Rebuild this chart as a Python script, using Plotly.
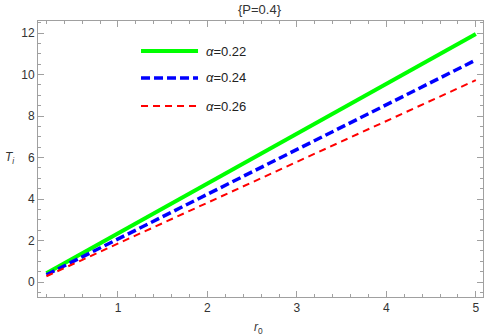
import plotly.graph_objects as go

r0 = [0.2, 1, 2, 3, 4, 5]
T_022 = [0.43, 2.35, 4.75, 7.15, 9.55, 11.95]
T_024 = [0.35, 2.07, 4.23, 6.39, 8.55, 10.7]
T_026 = [0.28, 1.86, 3.83, 5.80, 7.77, 9.73]
labels = ["<i>α</i>=0.22", "<i>α</i>=0.24", "<i>α</i>=0.26"]
title_text = "{P=0.4}"

styles = [dict(color="#00ff00", width=4),
          dict(color="#0000ff", width=3.5, dash="9px,4px"),
          dict(color="#ff0000", width=2, dash="7px,5px")]

fig = go.Figure()
for ys, lab, st in zip([T_022, T_024, T_026], labels, styles):
    fig.add_trace(go.Scatter(x=r0, y=ys, mode="lines", name=lab, line=st, showlegend=False))

axis_common = dict(showgrid=False, zeroline=False, showline=True, linecolor="#a0a0a0",
                   linewidth=1, mirror="allticks", ticks="inside", ticklen=6, automargin=False,
                   tickcolor="#a0a0a0", tickfont=dict(family="Liberation Sans", size=12, color="#333"))

fig.update_xaxes(range=[0.106, 5.08], tickvals=[1, 2, 3, 4, 5],
                 minor=dict(dtick=0.2, tick0=0, ticks="inside", ticklen=3, tickcolor="#a0a0a0"),
                 **axis_common)
fig.update_yaxes(range=[-0.72, 12.58], tickvals=[0, 2, 4, 6, 8, 10, 12],
                 minor=dict(dtick=0.5, tick0=0, ticks="inside", ticklen=3, tickcolor="#a0a0a0"),
                 **axis_common)

# manual legend (paper coordinates)
leg_y = [0.891, 0.7935, 0.692]
shapes = []
annotations = []
for yy, lab, st in zip(leg_y, labels, styles):
    shapes.append(dict(type="line", xref="paper", yref="paper", x0=0.2315, x1=0.3596,
                       y0=yy, y1=yy, line=st))
    annotations.append(dict(text=lab, xref="paper", yref="paper", x=0.372, y=yy,
                            xanchor="left", yanchor="middle", showarrow=False,
                            font=dict(family="Liberation Sans", size=13, color="#222")))

annotations += [
    dict(text="<i>T<sub>i</sub></i>", xref="paper", yref="paper", x=-0.062, y=0.505,
         xanchor="center", yanchor="middle", showarrow=False,
         font=dict(family="Liberation Sans", size=12, color="#333")),
    dict(text="<i>r</i><sub>0</sub>", xref="paper", yref="paper", x=0.495, y=-0.075,
         xanchor="center", yanchor="top", showarrow=False,
         font=dict(family="Liberation Sans", size=12, color="#333")),
    dict(text=title_text, xref="paper", yref="paper", x=0.498, y=1.04,
         xanchor="center", yanchor="middle", showarrow=False,
         font=dict(family="Liberation Sans", size=13, color="#333")),
]

fig.update_layout(
    width=484, height=335,
    margin=dict(l=38, r=1, t=21, b=38),
    plot_bgcolor="white", paper_bgcolor="white",
    shapes=shapes, annotations=annotations,
)

fig.write_html("out.html", config={"displayModeBar": False},
               post_script="document.body.style.margin='0';document.body.style.overflow='hidden';")
